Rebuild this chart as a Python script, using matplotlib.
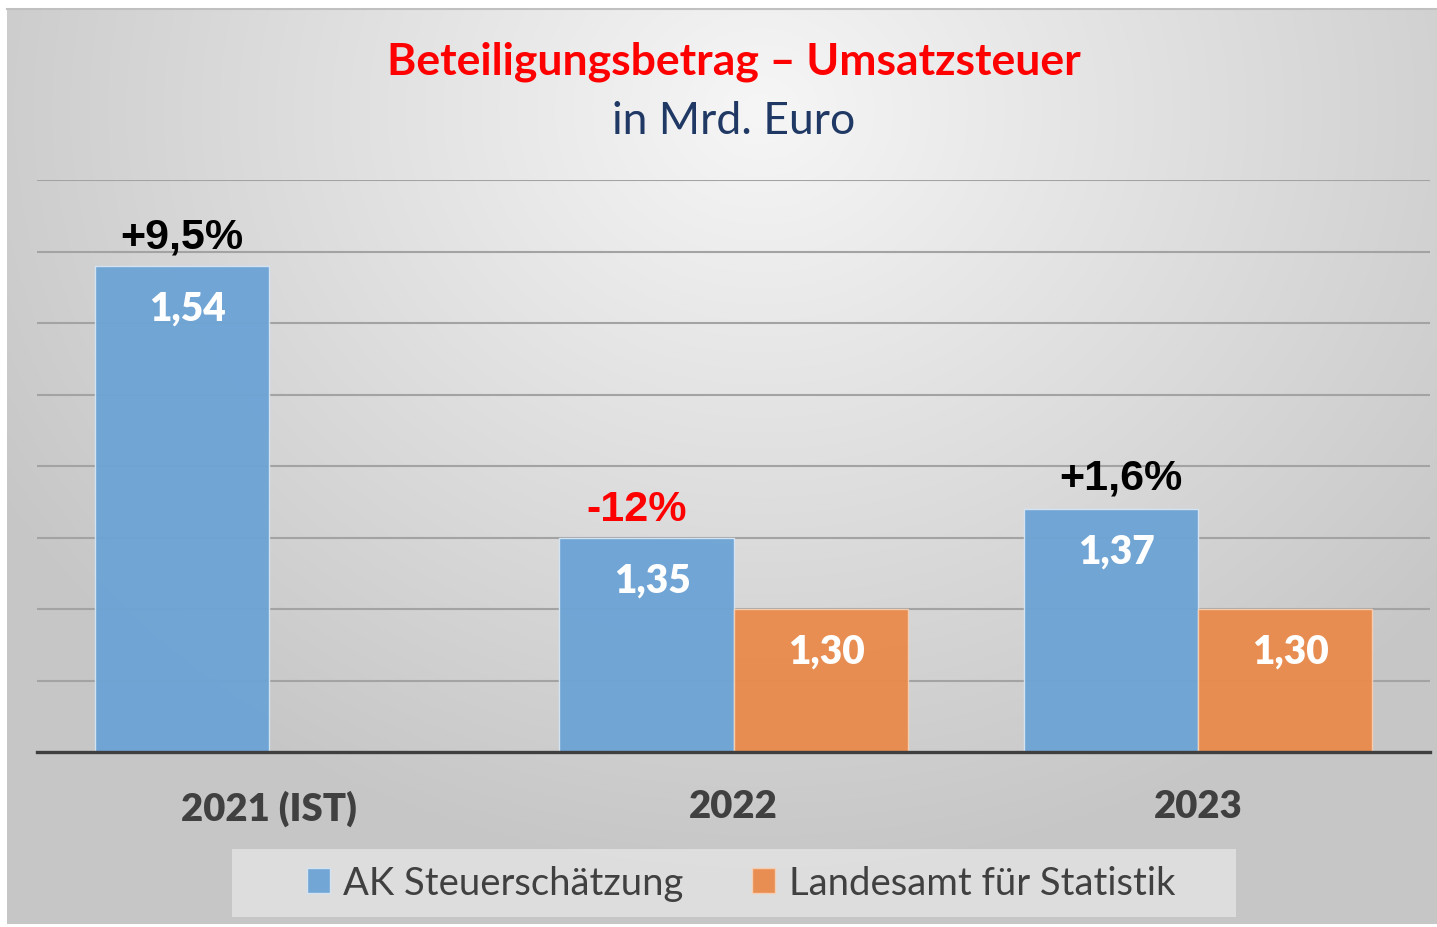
import numpy as np
import matplotlib
matplotlib.use("Agg")
import matplotlib.pyplot as plt
from matplotlib.patches import Rectangle

# ---- data ----
categories = ["2021 (IST)", "2022", "2023"]
ak_values = [1.54, 1.35, 1.37]
lfs_values = [np.nan, 1.30, 1.30]
series_names = ["AK Steuerschätzung", "Landesamt für Statistik"]
pct_labels = ["+9,5%", "-12%", "+1,6%"]
pct_colors = ["black", "#FF0000", "black"]
title_line1 = "Beteiligungsbetrag – Umsatzsteuer"
title_line2 = "in Mrd. Euro"

W, H = 1437, 928
fig = plt.figure(figsize=(W / 100, H / 100), dpi=100)
fig.patch.set_facecolor("white")

# ---- gradient background ----
bg = fig.add_axes([7 / W, 3 / H, 1 - 7 / W, (H - 10 - 3) / H], zorder=-10)
yy, xx = np.mgrid[0:300, 0:470]
px = 7 + xx * (W - 7) / 470
py = 10 + yy * (H - 13) / 300
d = np.sqrt(((px - 760) / 950) ** 2 + ((py - 110) / 820) ** 2)
val = np.clip(0.965 - 0.2 * d, 0.78, 1)
bg.imshow(np.dstack([val, val, val]), aspect="auto", extent=[0, 1, 0, 1], interpolation="bilinear")
bg.set_axis_off()
fig.add_artist(plt.Line2D([7 / W, 1], [1 - 10 / H, 1 - 10 / H], color="#c0c0c0", lw=1.5))

FAM = ["Lato", "DejaVu Sans"]

# ---- main axes ----
ax = fig.add_axes([37 / W, (H - 753) / H, (1430 - 37) / W, (753 - 181) / H])
ax.set_facecolor("none")
x = np.arange(len(categories))
bw = 0.375
blue = "#6CA3D5"
orange = "#EA8A4B"
b1 = ax.bar(x - bw / 2, ak_values, bw, bottom=0, color=blue, edgecolor="#d6e6f4", lw=1, zorder=2, alpha=0.95)
b2 = ax.bar(x + bw / 2, lfs_values, bw, bottom=0, color=orange, edgecolor="#f6d0b4", lw=1, zorder=2, alpha=0.95)
ax.set_ylim(1.2, 1.6)
ax.set_xlim(-0.5, 2.5)
ax.set_yticks(np.arange(1.25, 1.6001, 0.05))
ax.yaxis.grid(True, color="#a3a3a3", lw=1.5, zorder=1)
ax.set_axisbelow(True)
ax.tick_params(axis="y", length=0, labelleft=False)
ax.tick_params(axis="x", length=0, pad=27)
ax.set_xticks(x)
ax.set_xticklabels(categories, fontsize=27.5, fontweight="heavy", color="#404040", family=FAM)
for s in ["top", "right", "left"]:
    ax.spines[s].set_visible(False)
ax.spines["bottom"].set_color("#3f3f3f")
ax.spines["bottom"].set_linewidth(2.4)
ax.spines["bottom"].set_zorder(3)

# value labels
def fmt(v):
    return f"{v:.2f}".replace(".", ",")

for bars, vals in [(b1, ak_values), (b2, lfs_values)]:
    for r, v in zip(bars, vals):
        if np.isnan(v):
            continue
        ax.annotate(fmt(v), (r.get_x() + r.get_width() / 2, v), xytext=(4, -30.5),
                    textcoords="offset points", ha="center", va="center",
                    fontsize=28, fontweight="heavy", color="white", family=FAM, zorder=4)

# percent labels
pct_dx = [0, -7, 7]
pct_dy = [13, 12.5, 15]
for i, (lab, c) in enumerate(zip(pct_labels, pct_colors)):
    ax.annotate(lab, (x[i] - bw / 2, ak_values[i]), xytext=(pct_dx[i], pct_dy[i]),
                textcoords="offset points", ha="center", va="baseline",
                fontsize=31, fontweight="bold", color=c, family=["Liberation Sans", "DejaVu Sans"], zorder=4)

# titles
fig.text(734 / W, 1 - 62 / H, title_line1, ha="center", va="center", fontsize=32,
         fontweight="bold", color="#FF0000", family=FAM)
fig.text(734 / W, 1 - 121 / H, title_line2, ha="center", va="center", fontsize=32,
         color="#1F3864", family=FAM)

# legend
fig.add_artist(Rectangle((232 / W, 1 - 918 / H), (1236 - 232) / W, 68 / H, transform=fig.transFigure,
                         facecolor="#e6e6e6", alpha=0.75, edgecolor="none", zorder=0))
leg = fig.legend([b1, b2], series_names, loc="center", bbox_to_anchor=(741 / W, 1 - 884 / H),
                 ncol=2, frameon=False, handlelength=0.6, handleheight=0.6, handletextpad=0.35,
                 columnspacing=1.8, labelcolor="#404040",
                 prop={"family": FAM, "size": 27.5})

fig.savefig("out.png", dpi=100, facecolor="white")
